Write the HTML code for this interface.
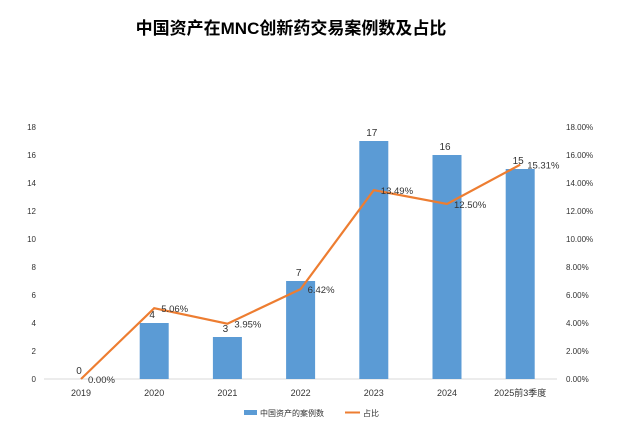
<!DOCTYPE html>
<html><head><meta charset="utf-8"><style>
body{margin:0;background:#fff;width:622px;height:431px;overflow:hidden}
text{font-family:"Liberation Sans","Noto Sans CJK SC",sans-serif}
</style></head><body>
<svg id="c" width="622" height="431">
<text x="291" y="34" text-anchor="middle" font-size="17" font-weight="bold" font-family="'Noto Serif CJK SC',serif" fill="#000">中国资产在MNC创新药交易案例数及占比</text>
</svg>
<script>
const categories=["2019","2020","2021","2022","2023","2024","2025前3季度"];
const counts=[0,4,3,7,17,16,15];
const shares=[0,5.06,3.95,6.42,13.49,12.50,15.31];
const leftTicks=[0,2,4,6,8,10,12,14,16,18];
const rightTicks=["0.00%","2.00%","4.00%","6.00%","8.00%","10.00%","12.00%","14.00%","16.00%","18.00%"];
const svg=document.getElementById('c');const NS='http://www.w3.org/2000/svg';
function el(t,a,p){const e=document.createElementNS(NS,t);for(const k in a)e.setAttribute(k,a[k]);(p||svg).appendChild(e);return e;}
const y0=379,y1=127;
const yL=v=>y0-(v/18)*(y0-y1);
const yR=v=>y0-(v/18)*(y0-y1);
const xC=i=>81+i*73.2;
leftTicks.forEach(v=>{const t=el('text',{x:36,y:yL(v)+3,'text-anchor':'end','font-size':8,fill:'#333'});t.textContent=v;

});
rightTicks.forEach((s,i)=>{const t=el('text',{x:566,y:yR(i*2)+3,'font-size':8,fill:'#333'});t.textContent=s;

});
const ax=el('line',{x1:44,x2:557,y1:y0,y2:y0,stroke:'#d9d9d9'});


categories.forEach((c,i)=>{const t=el('text',{x:xC(i),y:396,'text-anchor':'middle','font-size':9,fill:'#333'});t.textContent=c;

});
counts.forEach((v,i)=>{const r=el('rect',{x:xC(i)-14.5,y:yL(v),width:29,height:y0-yL(v),fill:'#5b9bd5'});


const t=el('text',{x:xC(i)-2,y:yL(v)-5,'text-anchor':'middle','font-size':10,fill:'#333'});t.textContent=v;

});
const pl=el('polyline',{points:shares.map((v,i)=>xC(i)+','+yR(v)).join(' '),fill:'none',stroke:'#ed7d31','stroke-width':2.2});


shares.forEach((v,i)=>{const t=el('text',{x:xC(i)+7,y:yR(v)+4,'font-size':9.5,fill:'#333'});t.textContent=v.toFixed(2)+'%';

});
const g=el('g',{});
el('rect',{x:244,y:410,width:13,height:5,fill:'#5b9bd5'},g);
const l1=el('text',{x:260,y:416,'font-size':8,fill:'#333'},g);l1.textContent='中国资产的案例数';
el('line',{x1:345,x2:360,y1:412.5,y2:412.5,stroke:'#ed7d31','stroke-width':2},g);
const l2=el('text',{x:363,y:416,'font-size':8,fill:'#333'},g);l2.textContent='占比';
</script>
</body></html>
